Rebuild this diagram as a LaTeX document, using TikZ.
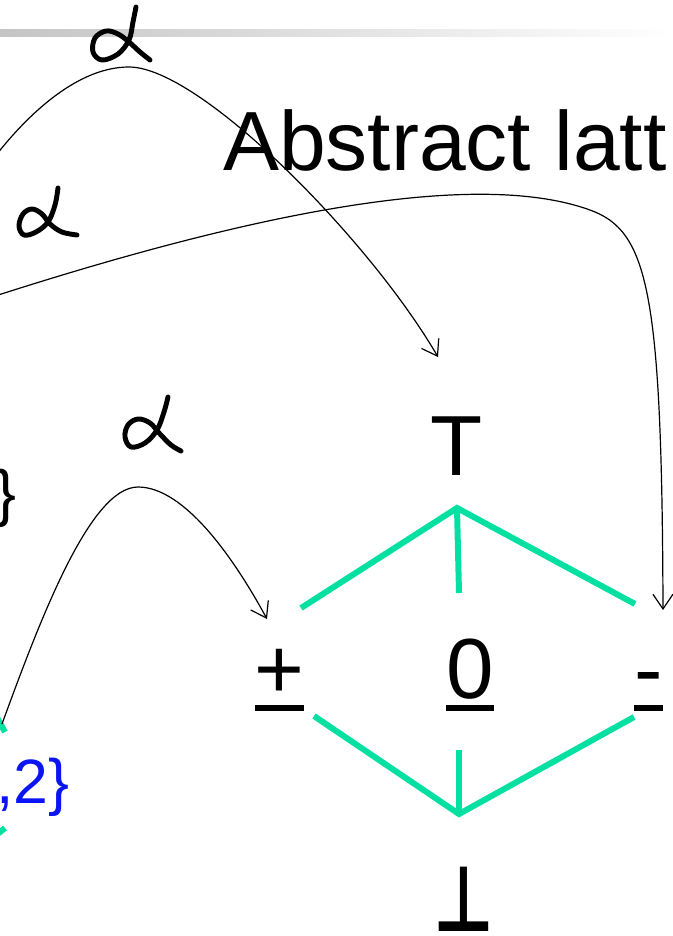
\documentclass[tikz,border=0pt]{standalone}
\usepackage{fontspec}
\setmainfont{Liberation Sans}
\newfontfamily\djv{DejaVu Sans}
\usetikzlibrary{arrows.meta}
\definecolor{latgreen}{RGB}{4,224,162}
\definecolor{setblue}{RGB}{10,20,245}
\begin{document}
\begin{tikzpicture}[x=0.75pt,y=-0.75pt,
  bigtxt/.style={inner sep=0pt,outer sep=0pt,font=\fontsize{64}{76}\selectfont},
  smalltxt/.style={inner sep=0pt,outer sep=0pt,font=\fontsize{47}{56}\selectfont},
  latline/.style={draw=latgreen,line width=4.5pt},
  ulbar/.style={draw=black,line width=4.5pt},
  alphaarrow/.style={draw=black,line width=0.9pt,-{Straight Barb[length=11pt,width=15pt,line width=0.9pt]}},
  ink/.style={draw=black,line width=3.7pt,line cap=round,line join=round}]
\useasboundingbox (0,0) rectangle (673,936);
% header bar
\shade[left color=black!23,right color=white] (0,29) rectangle (673,36);
% title
\node[inner sep=0pt,outer sep=0pt,font=\fontsize{63}{75}\selectfont,anchor=base west] (title) at (223,170) {Abstract latt};
% partial texts at left
\node[smalltxt,anchor=base east] (brace) at (16.5,514) {\}};
\node[smalltxt,anchor=base west,text=setblue] (set) at (-3.5,803) {,2\}};
% lattice elements
\node[bigtxt,anchor=base] (top) at (457,475) {T};
\node[bigtxt,anchor=base] (plus) at (279.5,698) {+};
\node[bigtxt,anchor=base] (zero) at (470,698) {0};
\node[bigtxt,anchor=base] (minus) at (648.5,698) {-};
\node[inner sep=0pt,outer sep=0pt,anchor=base,font=\djv\bfseries\fontsize{64}{70}\selectfont] (bot) at (464,931) {\scalebox{0.78}[1.07]{⊥}};
% underlines
\foreach \n in {plus,zero,minus}
  \draw[ulbar] ([yshift=-7.5pt]\n.base west) -- ([yshift=-7.5pt]\n.base east);
% lattice lines
\coordinate (tApex) at (457,508);
\coordinate (tL) at (301,608);
\coordinate (tM) at (459,593);
\coordinate (tR) at (635,604);
\coordinate (bApex) at (459,814);
\coordinate (bL) at (314,716);
\coordinate (bM) at (459,750);
\coordinate (bR) at (634,717);
\draw[latline] (tL) -- (tApex) -- (tR);
\draw[latline] (tApex) -- (tM);
\draw[latline] (bL) -- (bApex) -- (bR);
\draw[latline] (bM) -- (bApex);
% fragments of the left lattice
\coordinate (fA1) at (-5,714);
\coordinate (fA2) at (5,732);
\coordinate (fB1) at (-5,836);
\coordinate (fB2) at (5,828);
\draw[latline] (fA1) -- (fA2);
\draw[latline] (fB1) -- (fB2);
% alpha arrows
\coordinate (aS) at (-10,163);
\coordinate (aP) at (129,67);
\coordinate (aT) at (438,357);
\draw[alphaarrow] (aS) .. controls (30,110) and (80,67) .. (aP) .. controls (200,67) and (370,240) .. (aT);
\coordinate (bS) at (-8,297);
\coordinate (bK) at (590,210);
\coordinate (bT) at (663,610);
\draw[alphaarrow] (bS) .. controls (200,230) and (460,163) .. (bK) .. controls (648,231) and (662,290) .. (bT);
\coordinate (cS) at (2,724);
\coordinate (cP) at (138,487);
\coordinate (cT) at (267,619);
\draw[alphaarrow] (cS) .. controls (40,620) and (90,487) .. (cP) .. controls (185,487) and (235,560) .. (cT);
% handwritten alphas
\draw[ink] plot[smooth,tension=0.6] coordinates {(136,7) (133,22) (129,40) (118,54) (102,60) (93,52) (95,38) (106,31) (118,34) (129,42) (140,52) (150,60)};
\draw[ink] plot[smooth,tension=0.6] coordinates {(58,188) (55,205) (48,222) (36,232) (24,235) (19,226) (23,214) (32,209) (42,214) (50,224) (62,232) (77,235)};
\draw[ink] plot[smooth,tension=0.6] coordinates {(168,397) (164,412) (157,430) (145,443) (131,447) (125,437) (128,425) (138,419) (150,423) (160,434) (171,445) (181,451)};
\end{tikzpicture}
\end{document}
